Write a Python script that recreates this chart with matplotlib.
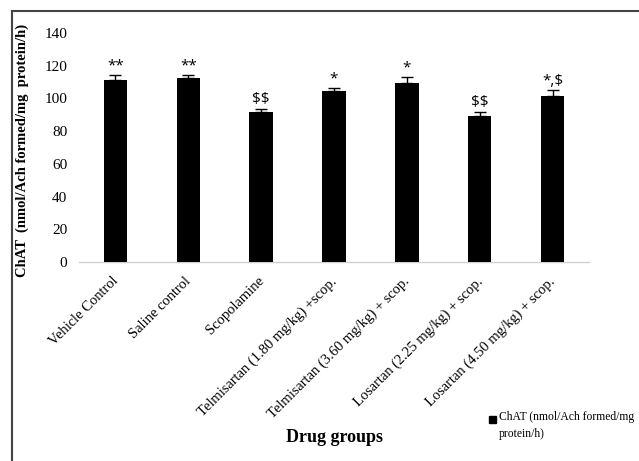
import matplotlib
matplotlib.use("Agg")
import matplotlib.pyplot as plt
from matplotlib.patches import Rectangle
from matplotlib.lines import Line2D
from matplotlib.transforms import ScaledTranslation

groups = [
    "Vehicle Control",
    "Saline control",
    "Scopolamine",
    "Telmisartan (1.80 mg/kg) +scop.",
    "Telmisartan (3.60 mg/kg) + scop.",
    "Losartan (2.25 mg/kg) + scop.",
    "Losartan (4.50 mg/kg) + scop.",
]
chat_activity = [111.2, 112.7, 91.7, 104.7, 109.7, 89.4, 101.5]
chat_sem = [3.3, 1.9, 2.0, 1.5, 3.4, 2.5, 3.6]
significance = ["**", "**", "$$", "*", "*", "$$", "*,$"]
yticks = [0, 20, 40, 60, 80, 100, 120, 140]

serif = ["Liberation Serif", "DejaVu Serif"]
sans = ["Open Sans", "DejaVu Sans"]

W, H = 639, 461
fig = plt.figure(figsize=(W / 100, H / 100), dpi=100)
ax = fig.add_axes([79 / W, 1 - 262 / H, 510 / W, 229 / H])

x = list(range(len(groups)))
ax.bar(x, chat_activity, width=0.32, color="black", zorder=3)
ax.errorbar(x, chat_activity, yerr=[[0] * len(x), chat_sem], fmt="none",
            ecolor="black", elinewidth=1, capsize=4, capthick=1, zorder=4)

for xi, v, e, s in zip(x, chat_activity, chat_sem, significance):
    ax.annotate(s, (xi, v + e), xytext=(0, 1), textcoords="offset points",
                ha="center", va="bottom", fontsize=11, family=sans,
                parse_math=False)

ax.set_xlim(-0.5, len(groups) - 0.5)
ax.set_ylim(0, 140)
ax.set_yticks(yticks)
ax.set_yticklabels([str(t) for t in yticks], family=serif, fontsize=11)
ax.set_xticks(x)
ax.tick_params(axis="both", length=0)
ax.tick_params(axis="x", pad=9)
ax.tick_params(axis="y", pad=8.5)
ax.set_xticklabels(groups, rotation=45, ha="right", va="top",
                   rotation_mode="anchor", family=serif, fontsize=10.5)
shift = ScaledTranslation(-4 / 100, 0, fig.dpi_scale_trans)
for lbl in ax.get_xticklabels():
    lbl.set_transform(lbl.get_transform() + shift)
for side in ["left", "right", "top"]:
    ax.spines[side].set_visible(False)
ax.spines["bottom"].set_color("#d0d0d0")
ax.spines["bottom"].set_linewidth(1)

fig.text(22 / W, 1 - 150 / H, "ChAT  (nmol/Ach formed/mg  protein/h)",
         rotation=90, ha="center", va="center", fontsize=10.5,
         fontweight="bold", family=serif)
fig.text(334 / W, 1 - 437 / H, "Drug groups", ha="center", va="center",
         fontsize=13, fontweight="bold", family=serif)

# legend entry
fig.patches.append(Rectangle((489 / W, 1 - 423 / H), 7 / W, 7 / H,
                             transform=fig.transFigure, color="black"))
fig.text(499 / W, 1 - 411 / H, "ChAT (nmol/Ach formed/mg\nprotein/h)",
         ha="left", va="top", fontsize=8.4, family=serif,
         linespacing=1.5)

# outer frame
fig.lines.append(Line2D([12 / W, 12 / W], [0, 1 - 11 / H],
                        transform=fig.transFigure, color="#444444", lw=1.5))
fig.lines.append(Line2D([12 / W, 1], [1 - 11 / H, 1 - 11 / H],
                        transform=fig.transFigure, color="#444444", lw=1.5))

fig.savefig("out.png", dpi=100)
